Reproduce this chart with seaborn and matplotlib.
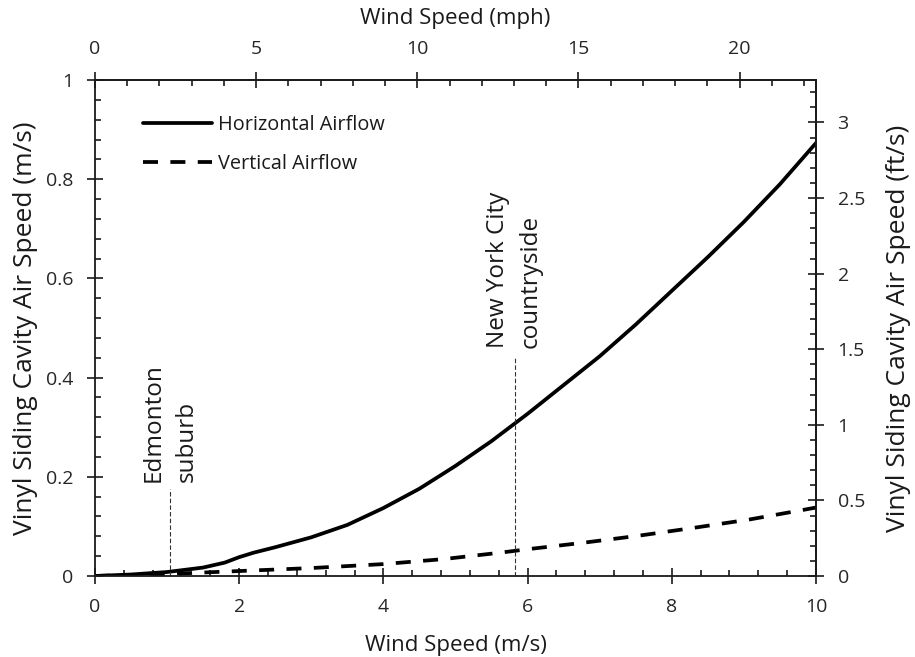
import numpy as np
import pandas as pd
import seaborn as sns
from matplotlib import pyplot as plt
from matplotlib.ticker import MultipleLocator, FuncFormatter

# wind speed (m/s) and cavity air speed (m/s)
wind_h = [0, 0.5, 1, 1.5, 1.8, 2, 2.2, 2.5, 3, 3.5, 4, 4.5, 5, 5.5, 6,
          6.5, 7, 7.5, 8, 8.5, 9, 9.5, 10]
horizontal = [0, 0.003, 0.008, 0.017, 0.027, 0.038, 0.047, 0.058, 0.078, 0.103,
              0.137, 0.176, 0.222, 0.272, 0.327, 0.385, 0.443, 0.507, 0.575,
              0.643, 0.714, 0.790, 0.873]
wind_v = [0, 1, 2, 3, 4, 4.83, 5.62, 6.0, 6.77, 7.53, 8.30, 9.08, 9.85, 10]
vertical = [0, 0.004, 0.010, 0.016, 0.024, 0.034, 0.047, 0.054, 0.067, 0.081,
            0.097, 0.114, 0.134, 0.138]

sites = ['Edmonton\nsuburb', 'New York City\ncountryside']
site_wind = [1.04, 5.82]
site_line_top = [0.175, 0.44]
site_text_y = [0.19, 0.46]

MPH = 2.23694
FTS = 3.28084

sns.set_theme(style='ticks')
plt.rcParams['font.family'] = ['Open Sans', 'DejaVu Sans']
plt.rcParams['text.color'] = '#1a1a1a'
plt.rcParams['axes.labelcolor'] = '#1a1a1a'

fig, ax = plt.subplots(figsize=(9.15, 6.57), dpi=100)
fig.subplots_adjust(left=0.1038, right=0.8918, top=0.8782, bottom=0.1233)

df_h = pd.DataFrame({'wind': wind_h, 'air': horizontal})
df_v = pd.DataFrame({'wind': wind_v, 'air': vertical})
sns.lineplot(data=df_h, x='wind', y='air', color='black', linewidth=2.7,
             label='Horizontal Airflow', ax=ax)
sns.lineplot(data=df_v, x='wind', y='air', color='black', linewidth=2.7,
             linestyle=(0, (4.0, 3.3)), label='Vertical Airflow', ax=ax)

# site markers
for s, xw, ltop, ty in zip(sites, site_wind, site_line_top, site_text_y):
    ax.plot([xw, xw], [0, ltop], color='#333333', lw=0.8, ls=(0, (4, 2)))
    ax.text(xw, ty, s, rotation=90, ha='center', va='bottom',
            multialignment='left', linespacing=1.5, fontsize=17.5)

ax.set_xlim(0, 10)
ax.set_ylim(0, 1)
ax.set_xlabel('Wind Speed (m/s)', fontsize=16, labelpad=14)
ax.set_ylabel('Vinyl Siding Cavity Air Speed (m/s)', fontsize=19, labelpad=6)

fmt = FuncFormatter(lambda v, p: f'{v:g}')
ax.xaxis.set_major_locator(MultipleLocator(2))
ax.xaxis.set_minor_locator(MultipleLocator(0.4))
ax.yaxis.set_major_locator(MultipleLocator(0.2))
ax.yaxis.set_minor_locator(MultipleLocator(0.04))
ax.yaxis.set_major_formatter(fmt)

top = ax.secondary_xaxis('top', functions=(lambda v: v * MPH, lambda v: v / MPH))
top.xaxis.set_major_locator(MultipleLocator(5))
top.xaxis.set_minor_locator(MultipleLocator(1))
top.set_xlabel('Wind Speed (mph)', fontsize=16, labelpad=12)

right = ax.secondary_yaxis('right', functions=(lambda v: v * FTS, lambda v: v / FTS))
right.yaxis.set_major_locator(MultipleLocator(0.5))
right.yaxis.set_minor_locator(MultipleLocator(0.1))
right.yaxis.set_major_formatter(fmt)
right.set_ylabel('Vinyl Siding Cavity Air Speed (ft/s)', fontsize=19, labelpad=15)

for a in [ax, top, right]:
    a.tick_params(which='major', direction='inout', length=11, width=1.2,
                  labelsize=14, pad=10, color='#1a1a1a')
    a.tick_params(which='minor', direction='in', length=4.5, width=1.2,
                  color='#1a1a1a')
    for sp in a.spines.values():
        sp.set_linewidth(1.3)
        sp.set_color('#1a1a1a')
ax.tick_params(which='both', top=False, right=False)

ax.legend(loc='upper left', bbox_to_anchor=(0.066, 0.93), frameon=False,
          fontsize=14.3, handlelength=3.5, handletextpad=0.3, labelspacing=0.95,
          borderpad=0, borderaxespad=0)

fig.savefig('out.png', dpi=100)
